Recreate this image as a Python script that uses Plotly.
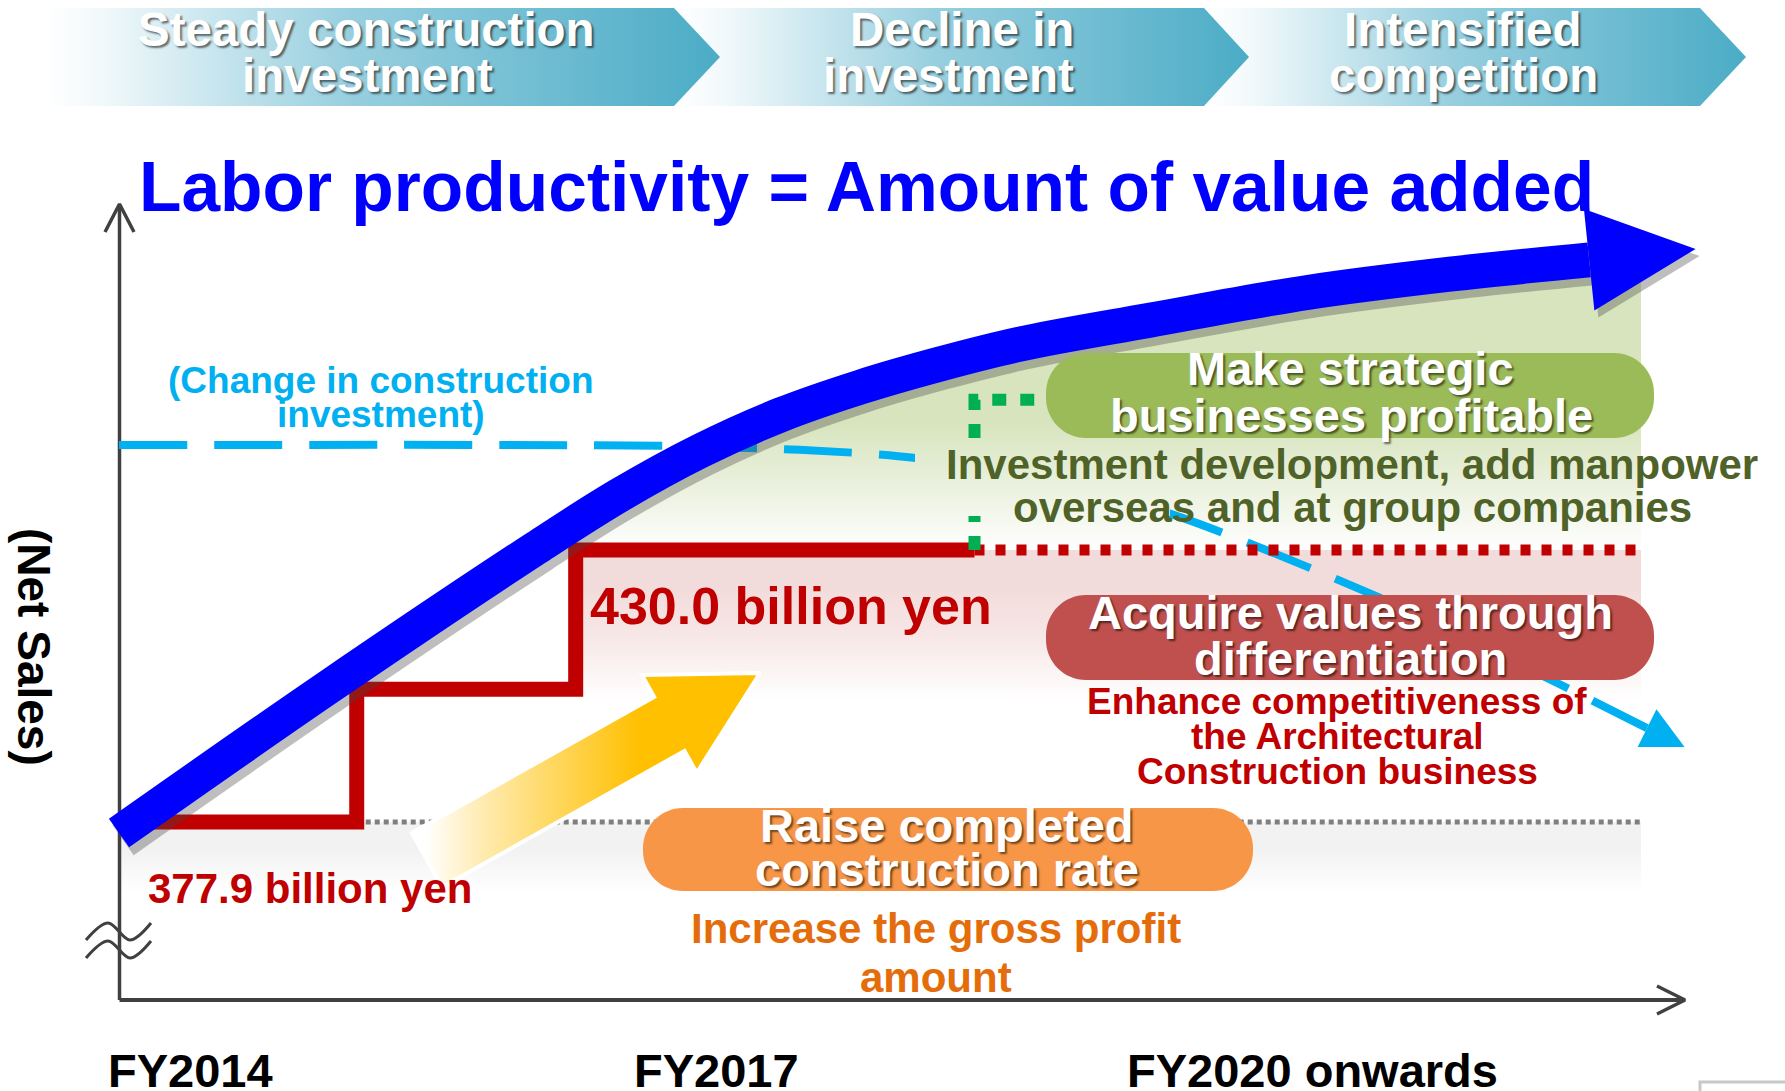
import plotly.graph_objects as go

# ---------------- data (conceptual units: x = timeline 0..100, y = net-sales index 0..100) ----------------
fiscal_labels = ["FY2014", "FY2017", "FY2020 onwards"]
fiscal_pos = [4.6, 38.2, 76.3]

phase_line1 = ["Steady construction", "Decline in", "Intensified"]
phase_line2 = ["investment", "investment", "competition"]

net_sales_x = [1.0, 15.2, 15.2, 29.2, 29.2, 54.7]
net_sales_y = [22.4, 22.4, 39.1, 39.1, 56.6, 56.6]
net_sales_labels = ["377.9 billion yen", "430.0 billion yen"]

target_x = [54.7, 97.3]
target_y = [56.6, 56.6]

baseline_x = [15.2, 97.3]
baseline_y = [22.4, 22.4]

productivity_x = [0.0, 13.2, 26.7, 32.0, 37.2, 42.3, 47.4, 52.5, 57.6, 65.9, 76.0, 85.1, 94.0]
productivity_y = [21.0, 39.1, 56.9, 63.5, 69.1, 73.6, 77.1, 80.0, 82.5, 85.5, 89.0, 91.3, 93.1]

investment_x = [0.0, 34.9, 43.5, 50.8, 58.9, 67.0, 80.5, 90.9, 97.7]
investment_y = [69.8, 69.7, 69.2, 68.2, 65.2, 61.3, 50.7, 40.9, 34.2]

strategic_x = [54.7, 54.7, 59.3]
strategic_y = [56.6, 75.5, 75.5]

# ---------------- geometry helpers (pixel <-> axis units) ----------------
W, H = 1785, 1091
OX, OY, SX, SY = 119.0, 1000.0, 15.64, 7.95


def X(px):
    return (px - OX) / SX


def Y(py):
    return (OY - py) / SY


def PX(x):
    return OX + x * SX


def PY(y):
    return OY - y * SY


FONT = "Liberation Sans, Arial, sans-serif"
SHADOW = "2px 2px 2px rgba(0,0,0,0.55)"

fig = go.Figure()


def poly(pts_px, **kw):
    xs = [X(p[0]) for p in pts_px] + [X(pts_px[0][0])]
    ys = [Y(p[1]) for p in pts_px] + [Y(pts_px[0][1])]
    fig.add_trace(go.Scatter(x=xs, y=ys, mode="lines", fill="toself", hoverinfo="skip", **kw))


def line_px(pts_px, **kw):
    fig.add_trace(go.Scatter(x=[X(p[0]) for p in pts_px], y=[Y(p[1]) for p in pts_px],
                             mode="lines", hoverinfo="skip", **kw))


GREEN_GRAD = dict(type="vertical", start=Y(550), stop=Y(262),
                  colorscale=[[0, "#FFFFFF"], [0.15, "#F1F5E8"], [0.45, "#D7E4BD"], [1, "#D7E4BD"]])

# ---------------- banner chevrons ----------------
chev = [(45, 674, 720), (678, 1204, 1249), (1207, 1700, 1746)]
for x0, x1, xt in reversed(chev):
    poly([(x0, 8), (x1, 8), (xt, 57), (x1, 106), (x0, 106)],
         line=dict(width=0),
         fillgradient=dict(type="horizontal", start=X(x0), stop=X(xt),
                           colorscale=[[0, "#FFFFFF"], [0.08, "#F2F9FB"], [0.45, "#98CFDF"], [1, "#4BACC6"]]))

# ---------------- gradient regions ----------------
gx = productivity_x[2:] + [X(1641), X(1641), productivity_x[2]]
gy = productivity_y[2:] + [productivity_y[-1], target_y[0], target_y[0]]
fig.add_trace(go.Scatter(x=gx, y=gy, mode="lines", fill="toself", line=dict(width=0), hoverinfo="skip",
                         fillgradient=GREEN_GRAD))
fig.add_trace(go.Scatter(x=[net_sales_x[3], X(1641), X(1641), net_sales_x[3], net_sales_x[3]],
                         y=[target_y[0], target_y[0], Y(700), Y(700), target_y[0]],
                         mode="lines", fill="toself", line=dict(width=0), hoverinfo="skip",
                         fillgradient=dict(type="vertical", start=Y(700), stop=Y(550),
                                           colorscale=[[0, "#FFFFFF"], [0.45, "#F6E6E5"], [0.75, "#F2DCDB"], [1, "#F2DCDB"]])))
fig.add_trace(go.Scatter(x=[X(121), X(1641), X(1641), X(121), X(121)],
                         y=[baseline_y[0], baseline_y[0], Y(892), Y(892), baseline_y[0]],
                         mode="lines", fill="toself", line=dict(width=0), hoverinfo="skip",
                         fillgradient=dict(type="vertical", start=Y(892), stop=Y(822),
                                           colorscale=[[0, "#FFFFFF"], [0.6, "#F2F2F2"], [1, "#F2F2F2"]])))

# ---------------- axes ----------------
AX = "#404040"
line_px([(119.5, 1000), (119.5, 206)], line=dict(color=AX, width=3.5))
line_px([(105, 232), (119.5, 204), (134, 232)], line=dict(color=AX, width=3.5))
line_px([(119.5, 1000), (1684, 1000)], line=dict(color=AX, width=4))
line_px([(1657, 986), (1685, 1000), (1657, 1014)], line=dict(color=AX, width=3.5))
for dy in (0, 18):
    line_px([(86, 940 + dy), (108, 923 + dy), (130, 940 + dy), (151, 923 + dy)],
            line=dict(color=AX, width=3, shape="spline"))

# ---------------- baseline (gray dotted) ----------------
fig.add_trace(go.Scatter(x=baseline_x, y=baseline_y, mode="lines", hoverinfo="skip",
                         line=dict(color="#7F7F7F", width=5, dash="5px,4px")))

# ---------------- construction investment (cyan dashed) ----------------
fig.add_trace(go.Scatter(x=investment_x, y=investment_y, mode="lines", hoverinfo="skip",
                         line=dict(color="#00B0F0", width=8, dash="68px,27px", shape="spline", smoothing=0.8)))
ex, ey = PX(investment_x[-1]), PY(investment_y[-1])
px_, py_ = PX(investment_x[-2]), PY(investment_y[-2])
d = ((ex - px_) ** 2 + (ey - py_) ** 2) ** 0.5
ux, uy = (ex - px_) / d, (ey - py_) / d
nx, ny = -uy, ux
poly([(ex + 42 * ux, ey + 42 * uy), (ex + 21 * nx, ey + 21 * ny), (ex - 21 * nx, ey - 21 * ny)],
     line=dict(width=0), fillcolor="#00B0F0")

# ---------------- net sales steps ----------------
fig.add_trace(go.Scatter(x=net_sales_x, y=net_sales_y, mode="lines", hoverinfo="skip",
                         line=dict(color="#C00000", width=15)))
fig.add_trace(go.Scatter(x=target_x, y=target_y, mode="lines", hoverinfo="skip",
                         line=dict(color="#C00000", width=11, dash="10px,11px")))
fig.add_trace(go.Scatter(x=strategic_x, y=strategic_y, mode="lines", hoverinfo="skip",
                         line=dict(color="#00B050", width=12, dash="14px,14px")))

# text-box backdrop behind the "Investment development" caption (same gradient as region)
poly([(915, 438), (1170, 438), (1170, 516), (915, 516)], line=dict(width=0), fillgradient=GREEN_GRAD)

# ---------------- completed construction rate arrow (gradient) ----------------
tx, ty = 427.0, 860.0
hx, hy = 760.0, 673.0
d = ((hx - tx) ** 2 + (hy - ty) ** 2) ** 0.5
ux, uy = (hx - tx) / d, (hy - ty) / d
nx, ny = -uy, ux
sw, hl, hw = 31.0, 104.0, 56.0
bx, by = hx - hl * ux, hy - hl * uy
arrow = [(tx + sw * nx, ty + sw * ny), (bx + sw * nx, by + sw * ny), (bx + hw * nx, by + hw * ny), (hx, hy),
         (bx - hw * nx, by - hw * ny), (bx - sw * nx, by - sw * ny), (tx - sw * nx, ty - sw * ny)]
poly(arrow, line=dict(color="#FFFFFF", width=4),
     fillgradient=dict(type="horizontal", start=X(425), stop=X(640),
                       colorscale=[[0, "#FFFFFF"], [0.3, "#FFE9A8"], [1, "#FFC000"]]))

# ---------------- labor productivity curve (blue) ----------------
ex, ey = PX(productivity_x[-1]), PY(productivity_y[-1])
px_, py_ = PX(productivity_x[-2]), PY(productivity_y[-2])
d = ((ex - px_) ** 2 + (ey - py_) ** 2) ** 0.5
ux, uy = (ex - px_) / d, (ey - py_) / d
nx, ny = -uy, ux
head = [(ex + 107 * ux, ey + 107 * uy), (ex + 51 * nx, ey + 51 * ny), (ex - 51 * nx, ey - 51 * ny)]
sdx, sdy = 4.0, 7.0
fig.add_trace(go.Scatter(x=[x + sdx / SX for x in productivity_x], y=[y - sdy / SY for y in productivity_y],
                         mode="lines", hoverinfo="skip",
                         line=dict(color="rgba(70,70,70,0.35)", width=37, shape="spline", smoothing=1.0)))
poly([(p[0] + sdx, p[1] + sdy) for p in head], line=dict(width=0), fillcolor="rgba(70,70,70,0.35)")
fig.add_trace(go.Scatter(x=productivity_x, y=productivity_y, mode="lines", hoverinfo="skip",
                         line=dict(color="#0000FF", width=35, shape="spline", smoothing=1.0)))
poly(head, line=dict(width=0), fillcolor="#0000FF")


# ---------------- rounded boxes ----------------
def rbox(x0, y0, x1, y1, r):
    k = 0.5523 * r

    def p(a, b):
        return f"{X(a):.4f},{Y(b):.4f}"
    return (f"M {p(x0 + r, y0)} L {p(x1 - r, y0)} C {p(x1 - r + k, y0)} {p(x1, y0 + r - k)} {p(x1, y0 + r)} "
            f"L {p(x1, y1 - r)} C {p(x1, y1 - r + k)} {p(x1 - r + k, y1)} {p(x1 - r, y1)} "
            f"L {p(x0 + r, y1)} C {p(x0 + r - k, y1)} {p(x0, y1 - r + k)} {p(x0, y1 - r)} "
            f"L {p(x0, y0 + r)} C {p(x0, y0 + r - k)} {p(x0 + r - k, y0)} {p(x0 + r, y0)} Z")


shapes = [
    dict(type="path", path=rbox(1046, 353, 1654, 438, 40), fillcolor="#9BBB59", line=dict(width=0), layer="above",
         xref="x", yref="y"),
    dict(type="path", path=rbox(1046, 595, 1654, 680, 40), fillcolor="#C0504D", line=dict(width=0), layer="above",
         xref="x", yref="y"),
    dict(type="path", path=rbox(643, 808, 1253, 891, 40), fillcolor="#F79646", line=dict(width=0), layer="above",
         xref="x", yref="y"),
    dict(type="path", path=f"M {X(1700)},{Y(1095)} L {X(1700)},{Y(1082)} L {X(1790)},{Y(1082)}",
         line=dict(color="#C8C8C8", width=3), xref="x", yref="y"),
]

# ---------------- text ----------------
ann = []


def txt(s, px, py, size, color, shadow=None, angle=0):
    f = dict(family=FONT, size=size, color=color)
    if shadow:
        f["shadow"] = shadow
    ann.append(dict(x=X(px), y=Y(py), xref="x", yref="y", text=f"<b>{s}</b>", showarrow=False,
                    xanchor="center", yanchor="middle", font=f, textangle=angle))


banner_x1 = [366, 962, 1463]
banner_x2 = [367, 948, 1463]
for s1, s2, a, b in zip(phase_line1, phase_line2, banner_x1, banner_x2):
    txt(s1, a, 29, 47.5, "#FFFFFF", SHADOW)
    txt(s2, b, 75, 47.5, "#FFFFFF", SHADOW)

txt("Labor productivity = Amount of value added", 866, 187, 69.5, "#0000FF")
txt("(Change in construction", 381, 380, 37, "#00B0F0")
txt("investment)", 381, 414, 37, "#00B0F0")
txt(net_sales_labels[1], 791, 606, 52, "#C00000")
txt(net_sales_labels[0], 310, 888, 42, "#C00000")

txt("Make strategic", 1350, 368, 47, "#FFFFFF", SHADOW)
txt("businesses profitable", 1351, 415, 47, "#FFFFFF", SHADOW)
txt("Investment development, add manpower", 1352, 464, 42, "#4F6228")
txt("overseas and at group companies", 1352, 507, 42, "#4F6228")

txt("Acquire values through", 1350, 612, 47, "#FFFFFF", SHADOW)
txt("differentiation", 1350, 658, 47, "#FFFFFF", SHADOW)
txt("Enhance competitiveness of", 1337, 701, 37, "#C00000")
txt("the Architectural", 1337, 736, 37, "#C00000")
txt("Construction business", 1337, 771, 37, "#C00000")

txt("Raise completed", 947, 825, 47, "#FFFFFF", SHADOW)
txt("construction rate", 947, 869, 47, "#FFFFFF", SHADOW)
txt("Increase the gross profit", 936, 928, 42, "#E46C0A")
txt("amount", 936, 977, 42, "#E46C0A")

for lab, pos in zip(fiscal_labels, fiscal_pos):
    txt(lab, PX(pos), 1070, 47, "#000000")

txt("(Net Sales)", 34, 647, 46, "#000000", angle=90)

fig.update_layout(
    width=W, height=H, autosize=False,
    margin=dict(l=0, r=0, t=0, b=0, pad=0),
    paper_bgcolor="#FFFFFF", plot_bgcolor="#FFFFFF",
    showlegend=False,
    xaxis=dict(range=[X(0), X(W)], visible=False, showgrid=False, zeroline=False, fixedrange=True),
    yaxis=dict(range=[Y(H), Y(0)], visible=False, showgrid=False, zeroline=False, fixedrange=True),
    shapes=shapes,
    annotations=ann,
)

fig.write_html("out.html", config={"displayModeBar": False},
               post_script="document.body.style.margin='0';document.body.style.overflow='hidden';")
